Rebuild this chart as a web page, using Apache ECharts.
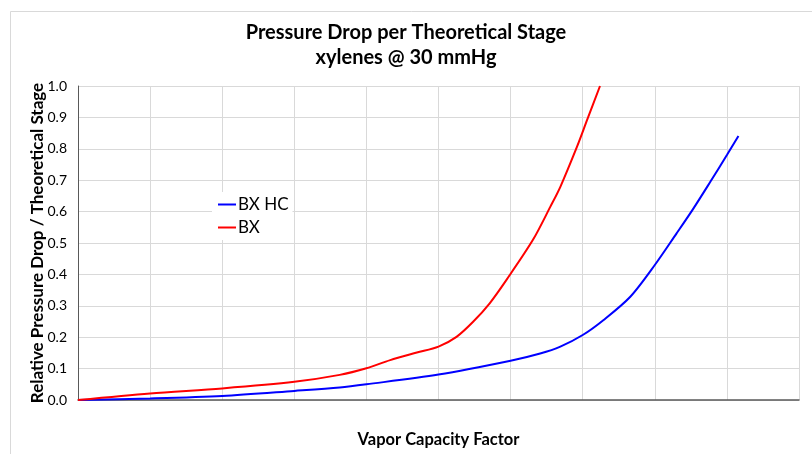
<!DOCTYPE html>
<html>
<head>
<meta charset="utf-8">
<script src="https://cdn.jsdelivr.net/npm/echarts@6/dist/echarts.min.js"></script>
<style>html,body{margin:0;padding:0;background:#fff}#c{width:812px;height:454px}</style>
</head>
<body>
<div id="c"></div>
<script>
const titleText = 'Pressure Drop per Theoretical Stage\nxylenes @ 30 mmHg';
const xAxisName = 'Vapor Capacity Factor';
const yAxisName = 'Relative Pressure Drop / Theoretical Stage';
const seriesNames = ['BX HC', 'BX'];

const bxhcX = [0, 1, 2, 3, 3.63, 4, 5, 6, 6.41, 6.69, 7, 7.29, 7.66, 8.0, 8.30, 8.53, 8.77, 9.0, 9.16];
const bxhcY = [0, 0.005, 0.013, 0.029, 0.040, 0.050, 0.081, 0.125, 0.148, 0.170, 0.207, 0.255, 0.329, 0.430, 0.530, 0.608, 0.695, 0.780, 0.841];

const bxX = [0, 1, 2, 3, 3.63, 4, 4.33, 4.70, 5, 5.25, 5.48, 5.71, 5.95, 6.31, 6.55, 6.69, 6.92, 7.06, 7.24];
const bxY = [0, 0.021, 0.037, 0.058, 0.080, 0.101, 0.127, 0.151, 0.170, 0.201, 0.249, 0.308, 0.385, 0.510, 0.615, 0.679, 0.806, 0.891, 1.0];

const FONT = 'Lato, "Open Sans", sans-serif';
const chart = echarts.init(document.getElementById('c'));
chart.setOption({
  animation: false,
  backgroundColor: '#fff',
  graphic: [{
    type: 'rect', shape: {x: 10.5, y: 11.5, width: 820, height: 460},
    style: {fill: 'none', stroke: '#d9d9d9', lineWidth: 1}, silent: true, z: -1
  }],
  title: {
    text: titleText, left: 'center', top: 15,
    textStyle: {fontFamily: FONT, fontWeight: 'bold', fontSize: 20, color: '#000', lineHeight: 25}
  },
  legend: {
    orient: 'vertical', left: 212, top: 192,
    backgroundColor: '#fff', padding: [4, 4, 4, 6], itemGap: 6,
    itemWidth: 18, itemHeight: 2, icon: 'rect',
    textStyle: {fontFamily: FONT, fontSize: 17, color: '#000', padding: [0, 0, 0, -3]},
    data: seriesNames
  },
  grid: {left: 78, right: 13, top: 86, bottom: 54, containLabel: false},
  xAxis: {
    type: 'value', min: 0, max: 10, interval: 1,
    name: xAxisName, nameLocation: 'middle', nameGap: 31, nameMoveOverlap: false,
    nameTextStyle: {fontFamily: FONT, fontWeight: 'bold', fontSize: 16.5, color: '#000'},
    axisLine: {show: true, lineStyle: {color: '#595959', width: 1.5}},
    axisTick: {show: false}, axisLabel: {show: false},
    splitLine: {show: true, lineStyle: {color: '#d9d9d9', width: 1}}
  },
  yAxis: {
    type: 'value', min: 0, max: 1, interval: 0.1,
    name: yAxisName, nameLocation: 'middle', nameGap: 32, nameMoveOverlap: false,
    nameTextStyle: {fontFamily: FONT, fontWeight: 'bold', fontSize: 17, color: '#000'},
    axisLine: {show: true, lineStyle: {color: '#595959', width: 1}},
    axisTick: {show: false},
    axisLabel: {fontFamily: FONT, fontSize: 14, color: '#000', margin: 11, formatter: v => v.toFixed(1)},
    splitLine: {show: true, lineStyle: {color: '#d9d9d9', width: 1}}
  },
  series: [
    {name: seriesNames[0], type: 'line', smooth: 0.3, showSymbol: false, symbol: 'none',
     lineStyle: {color: '#0000ff', width: 2}, itemStyle: {color: '#0000ff'},
     data: bxhcX.map((x, i) => [x, bxhcY[i]])},
    {name: seriesNames[1], type: 'line', smooth: 0.3, showSymbol: false, symbol: 'none',
     lineStyle: {color: '#ff0000', width: 2}, itemStyle: {color: '#ff0000'},
     data: bxX.map((x, i) => [x, bxY[i]])}
  ]
});
</script>
</body>
</html>
